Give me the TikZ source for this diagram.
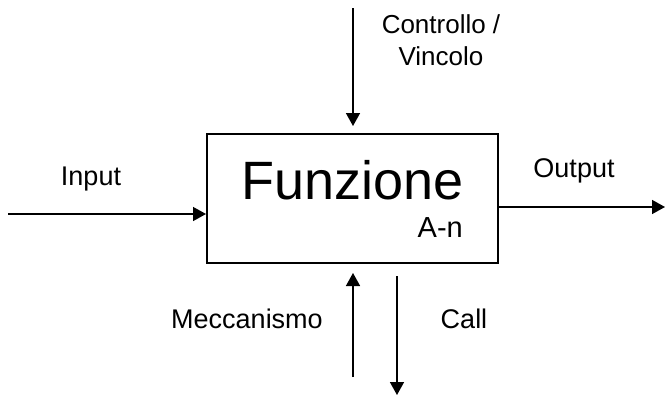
\documentclass[tikz,border=0pt]{standalone}
\usepackage{fontspec}
\setmainfont{Liberation Sans}
\usetikzlibrary{arrows.meta}
\begin{document}
\begin{tikzpicture}[x=1pt,y=-1pt,
  flow/.style={line width=1.5pt,-{Triangle[length=13pt,width=14pt]}},
  lbl/.style={anchor=base,inner sep=0pt,font=\fontsize{27}{32}\selectfont},
  fbox/.style={draw,line width=2pt,minimum width=291pt,minimum height=129pt,inner sep=0pt}]
\useasboundingbox (0,0) rectangle (665,397);

% the function block
\node[fbox] (box) at (352.5,198.5) {};
\node[anchor=base,inner sep=0pt,font=\fontsize{54}{60}\selectfont] (title) at (352.5,199) {Funzione};
\node[anchor=base east,inner sep=0pt,font=\fontsize{29}{32}\selectfont] (code) at (463,237) {A-n};

% free ends of the connectors
\coordinate (inS) at (8,214);
\coordinate (outE) at (665,207);
\coordinate (ctlS) at (353,8);
\coordinate (mecS) at (353,377);
\coordinate (callE) at (397,395);

% connectors
\draw[flow] (inS) -- (inS -| box.west);
\draw[flow] (outE -| box.east) -- (outE);
\draw[flow] (ctlS) -- ([yshift=7pt]ctlS |- box.north);
\draw[flow] (mecS) -- ([yshift=-9pt]mecS |- box.south);
\draw[flow] ([yshift=-12pt]callE |- box.south) -- (callE);

% labels
\node[lbl] (lin) at (91,185) {Input};
\node[lbl] (lout) at (574,177) {Output};
\node[lbl,align=center,font=\fontsize{26}{32}\selectfont] (lctl) at (441,65) {Controllo /\\Vincolo};
\node[lbl] (lmec) at (247,328) {Meccanismo};
\node[lbl] (lcall) at (464,328) {Call};
\end{tikzpicture}
\end{document}
